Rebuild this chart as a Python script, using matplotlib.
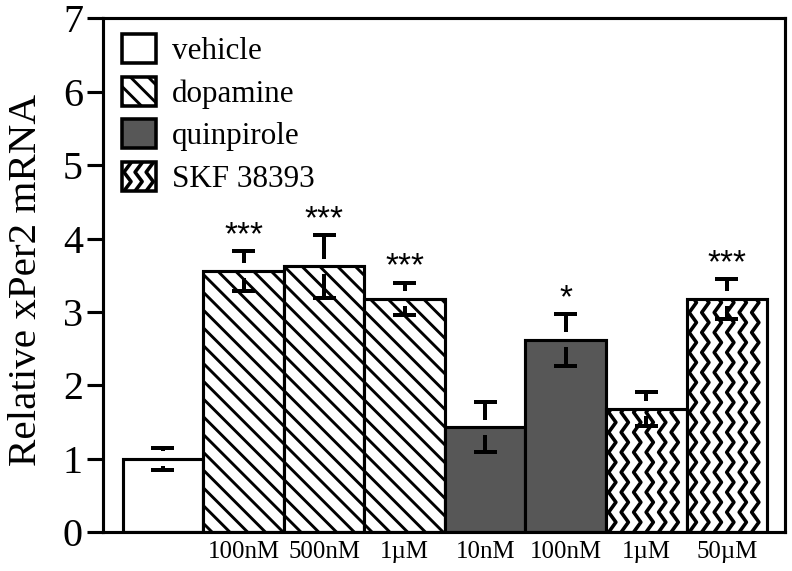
import numpy as np
import matplotlib
matplotlib.use("Agg")
import matplotlib.pyplot as plt
from matplotlib.patches import Patch, Rectangle
from matplotlib.lines import Line2D
from matplotlib.legend_handler import HandlerPatch

# data
labels = ['', '100nM', '500nM', '1\u00b5M', '10nM', '100nM', '1\u00b5M', '50\u00b5M']
groups = ['vehicle', 'dopamine', 'dopamine', 'dopamine',
          'quinpirole', 'quinpirole', 'SKF 38393', 'SKF 38393']
values = [1.0, 3.56, 3.62, 3.18, 1.43, 2.62, 1.68, 3.18]
errors = [0.15, 0.27, 0.43, 0.22, 0.34, 0.35, 0.23, 0.27]
stars = ['', '***', '***', '***', '', '*', '', '***']
legend_names = ['vehicle', 'dopamine', 'quinpirole', 'SKF 38393']

styles = {
    'vehicle': dict(facecolor='white', hatch=None, zigzag=False),
    'dopamine': dict(facecolor='white', hatch='\\\\\\', zigzag=False),
    'quinpirole': dict(facecolor='#575757', hatch=None, zigzag=False),
    'SKF 38393': dict(facecolor='white', hatch=None, zigzag=True),
}


def zigzag_lines(x0, x1, y0, y1, dx, dy, amp):
    # wavy vertical lines filling a box (the SKF fill pattern)
    ys = np.arange(y0, y1 + dy / 2, dy / 2)
    offs = np.where(np.arange(len(ys)) % 2 == 0, -amp / 2, amp / 2)
    return [(xc + offs, ys) for xc in np.arange(x0 + dx / 2, x1, dx)]


class HandlerZigzag(HandlerPatch):
    def create_artists(self, legend, orig_handle, xdescent, ydescent,
                       width, height, fontsize, trans):
        rect = Rectangle((-xdescent, -ydescent), width, height,
                         facecolor='white', edgecolor='black', lw=1.6,
                         transform=trans)
        arts = [rect]
        for xs, ys in zigzag_lines(-xdescent, -xdescent + width, -ydescent,
                                   -ydescent + height, 5.0, 8.5, 3.2):
            ln = Line2D(xs, ys, color='black', lw=1.6, transform=trans)
            ln.set_clip_path(rect)
            arts.append(ln)
        return arts


plt.rcParams['font.family'] = ['Liberation Serif', 'DejaVu Serif']
plt.rcParams['hatch.linewidth'] = 1.3
plt.rcParams['hatch.color'] = 'black'

fig = plt.figure(figsize=(4.95, 3.56875), dpi=160)
ax = fig.add_axes([0.130, 0.068, 0.861, 0.900])

x = np.arange(len(values))
for xi, v, g in zip(x, values, groups):
    st = styles[g]
    bar = ax.bar(xi, v, width=1.0, color=st['facecolor'], edgecolor='black',
                 linewidth=1.4, hatch=st['hatch'], zorder=2)[0]
    if st['zigzag']:
        for xs, ys in zigzag_lines(xi - 0.5, xi + 0.5, 0, v, 0.155, 0.272, 0.09):
            ln, = ax.plot(xs, ys, color='black', lw=1.6, zorder=2.2)
            ln.set_clip_path(bar)

# error bars, stem broken around the bar top
gap = 0.1
cap = 0.285
vals = np.array(values)
errs = np.array(errors)
ax.vlines(x, vals + gap, vals + errs, color='black', lw=1.8, zorder=3)
ax.vlines(x, vals - errs, vals - gap, color='black', lw=1.8, zorder=3)
ax.hlines(vals + errs, x - cap / 2, x + cap / 2, color='black', lw=1.8, zorder=3)
ax.hlines(vals - errs, x - cap / 2, x + cap / 2, color='black', lw=1.8, zorder=3)

for xi, v, e, s in zip(x, values, errors, stars):
    if s:
        ax.text(xi, v + e, s, ha='center', va='bottom', fontsize=15,
                family=['Liberation Sans', 'DejaVu Sans'])

ax.set_xlim(-0.745, 7.72)
ax.set_ylim(0, 7)
ax.set_yticks(range(8))
ax.set_xticks(x)
ax.set_xticklabels(labels, fontsize=11.2)
ax.tick_params(axis='x', length=0, pad=4)
ax.tick_params(axis='y', direction='out', length=7, width=1.4, labelsize=18, pad=2)
for sp in ax.spines.values():
    sp.set_linewidth(1.4)

ax.set_ylabel('Relative xPer2 mRNA', fontsize=18.5)
ax.yaxis.set_label_coords(-0.085, 0.49)

handles = [Patch(facecolor=styles[n]['facecolor'], edgecolor='black',
                 linewidth=1.6, hatch=styles[n]['hatch'], label=n)
           for n in legend_names]
ax.legend(handles=handles, loc='upper left', bbox_to_anchor=(0.005, 1.0),
          handler_map={handles[3]: HandlerZigzag()},
          frameon=False, fontsize=14,
          handlelength=1.1, handleheight=1.06, labelspacing=0.34,
          handletextpad=0.5, borderaxespad=0.3, borderpad=0.2)

fig.savefig('out.png', dpi=160)
